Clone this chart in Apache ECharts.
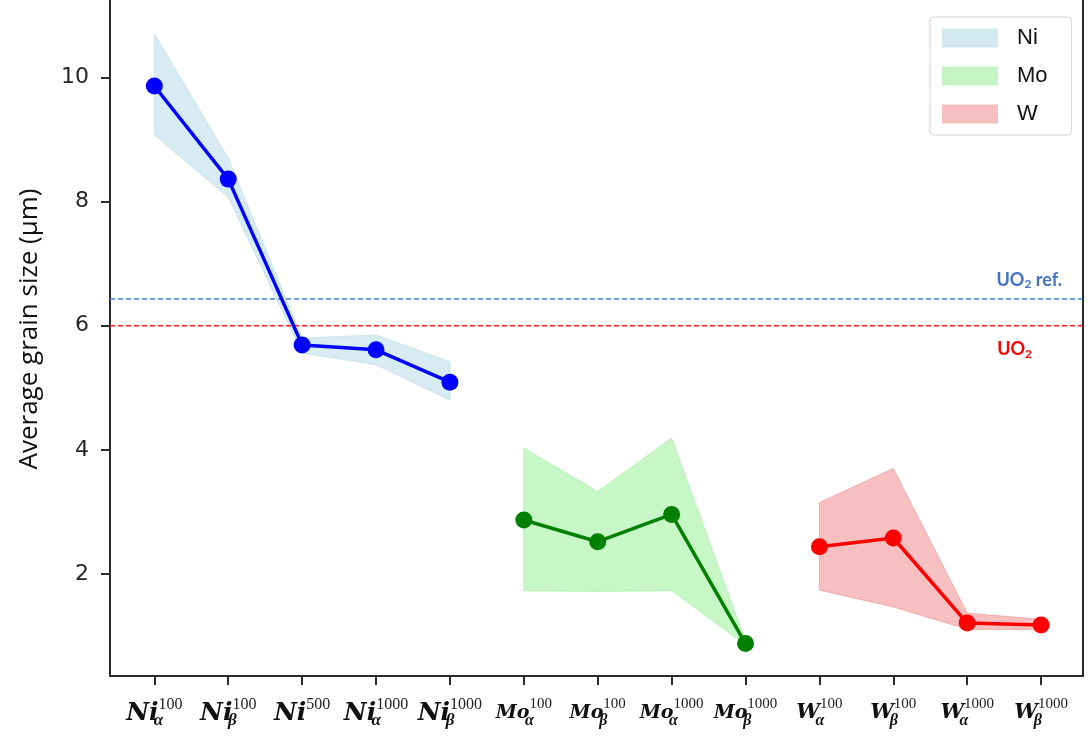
<!DOCTYPE html>
<html>
<head>
<meta charset="utf-8">
<script src="https://cdn.jsdelivr.net/npm/echarts@6/dist/echarts.min.js"></script>
<style>
  html, body { margin: 0; padding: 0; background: #fff; }
  #chart { width: 1088px; height: 738px; }
</style>
</head>
<body>
<div id="chart"></div>
<script>
// Sample labels: element, phase (subscript) and load (superscript)
const elements = ['Ni', 'Ni', 'Ni', 'Ni', 'Ni', 'Mo', 'Mo', 'Mo', 'Mo', 'W', 'W', 'W', 'W'];
const phases   = ['α', 'β', '', 'α', 'β', 'α', 'β', 'α', 'β', 'α', 'β', 'α', 'β'];
const loads    = ['100', '100', '500', '1000', '1000', '100', '100', '1000', '1000', '100', '100', '1000', '1000'];

// Positions of each group on the sample axis
const niIdx = [0, 1, 2, 3, 4];
const moIdx = [5, 6, 7, 8];
const wIdx  = [9, 10, 11, 12];

// Average grain size (µm) with spread bounds
const niMean  = [9.86, 8.36, 5.69, 5.61, 5.09];
const niUpper = [10.70, 8.70, 5.80, 5.85, 5.42];
const niLower = [9.07, 8.07, 5.56, 5.37, 4.80];

const moMean  = [2.87, 2.52, 2.96, 0.88];
const moUpper = [4.03, 3.33, 4.19, 0.92];
const moLower = [1.73, 1.72, 1.73, 0.86];

const wMean  = [2.44, 2.58, 1.21, 1.18];
const wUpper = [3.15, 3.70, 1.37, 1.27];
const wLower = [1.74, 1.47, 1.11, 1.10];

// Reference grain sizes
const uo2Ref = 6.43;
const uo2 = 6.0;

const yTicks = [2, 4, 6, 8, 10];
const xTicks = elements.map((_, i) => i);

// Axis extents
const X_MIN = -0.6, X_MAX = 12.567;
const Y_MIN = 0.357, Y_MAX = 11.245;

const chart = echarts.init(document.getElementById('chart'));

function bandSeries(name, idx, lower, upper, color) {
  return {
    name: name,
    type: 'custom',
    data: idx.map((x, i) => [x, lower[i], upper[i]]),
    encode: { x: 0, y: [1, 2] },
    itemStyle: { color: color },
    z: 1,
    silent: true,
    renderItem: function (params, api) {
      if (params.dataIndex !== 0) return null;
      const pts = [];
      for (let i = 0; i < idx.length; i++) pts.push(api.coord([idx[i], upper[i]]));
      for (let i = idx.length - 1; i >= 0; i--) pts.push(api.coord([idx[i], lower[i]]));
      return {
        type: 'polygon',
        shape: { points: pts },
        style: { fill: color, stroke: color, lineWidth: 1, opacity: 0.5 }
      };
    }
  };
}

function meanSeries(name, idx, mean, color) {
  return {
    name: name,
    type: 'line',
    data: idx.map((x, i) => [x, mean[i]]),
    symbol: 'circle',
    symbolSize: 17,
    lineStyle: { color: color, width: 3.5 },
    itemStyle: { color: color },
    z: 3,
    silent: true
  };
}

// Horizontal dashed reference spanning the whole plot, labelled at its right end
function refLineSeries(name, value, color, label) {
  return {
    name: name,
    type: 'line',
    data: [
      [X_MIN, value],
      { value: [X_MAX, value], label: Object.assign({ show: true, position: 'left' }, label) }
    ],
    symbol: 'circle',
    symbolSize: 0,
    showSymbol: true,
    clip: false,
    lineStyle: { color: color, type: [5, 3], width: 1.5 },
    itemStyle: { color: color },
    z: 2,
    silent: true
  };
}

const labelSizes = {
  Ni: { el: 25, sup: 16, sub: 17 },
  Mo: { el: 19, sup: 15, sub: 16 },
  W:  { el: 21, sup: 15, sub: 16 }
};
const rich = {};
Object.keys(labelSizes).forEach(k => {
  const s = labelSizes[k];
  rich[k + 'el'] = {
    fontFamily: 'DejaVu Serif', fontStyle: 'italic', fontWeight: 'bold',
    fontSize: s.el, color: '#111', verticalAlign: 'middle', lineHeight: 32
  };
  rich[k + 'sub'] = {
    fontFamily: 'Liberation Serif', fontStyle: 'italic', fontWeight: 'bold',
    fontSize: s.sub, color: '#111', verticalAlign: 'bottom', width: 0, lineHeight: 32
  };
  rich[k + 'sup'] = {
    fontFamily: 'Liberation Serif', fontSize: s.sup, color: '#222',
    verticalAlign: 'top', lineHeight: 32
  };
});

const refRich = {
  ref: { fontFamily: 'Lato', fontWeight: 'bold', fontSize: 18, color: '#4472C4' },
  refSub: { fontFamily: 'Lato', fontWeight: 'bold', fontSize: 12, color: '#4472C4', padding: [9, 0, 0, 0] },
  uo: { fontFamily: 'Lato', fontWeight: 'bold', fontSize: 18, color: '#ff0000' },
  uoSub: { fontFamily: 'Lato', fontWeight: 'bold', fontSize: 12, color: '#ff0000', padding: [9, 0, 0, 0] }
};

function sampleLabel(i) {
  const e = elements[i];
  let s = '{' + e + 'el|' + e + '}';
  if (phases[i]) s += '{' + e + 'sub|' + phases[i] + '}';
  s += '{' + e + 'sup|' + loads[i] + '}';
  return s;
}

const option = {
  animation: false,
  backgroundColor: '#ffffff',
  grid: { left: 110, right: 5, top: 0, bottom: 62, containLabel: false },
  legend: {
    left: 930,
    top: 17,
    orient: 'vertical',
    icon: 'rect',
    itemWidth: 56,
    itemHeight: 19,
    itemGap: 16,
    padding: [10, 24, 10, 12],
    borderColor: '#d4d4d4',
    borderWidth: 1,
    borderRadius: 4,
    backgroundColor: 'rgba(255,255,255,0.8)',
    textStyle: { fontFamily: 'Liberation Sans', fontSize: 22, color: '#111', padding: [0, 0, 0, 14] },
    data: [
      { name: 'Ni', itemStyle: { color: '#d3e9f1', opacity: 1 } },
      { name: 'Mo', itemStyle: { color: '#c5f5c5', opacity: 1 } },
      { name: 'W',  itemStyle: { color: '#f6bfbf', opacity: 1 } }
    ],
    selectedMode: false
  },
  xAxis: {
    type: 'value',
    min: X_MIN,
    max: X_MAX,
    splitLine: { show: false },
    axisLine: { show: true, onZero: false, lineStyle: { color: '#2a2a2a', width: 2 } },
    axisTick: { show: true, customValues: xTicks, length: 9, lineStyle: { color: '#2a2a2a', width: 2 } },
    axisLabel: {
      customValues: xTicks,
      margin: 21,
      formatter: v => sampleLabel(Math.round(v)),
      rich: rich
    }
  },
  yAxis: [{
    type: 'value',
    min: Y_MIN,
    max: Y_MAX,
    name: 'Average grain size (µm)',
    nameLocation: 'middle',
    nameGap: 67,
    nameTextStyle: { fontFamily: 'Open Sans', fontSize: 26, color: '#111', padding: [0, 0, 0, 18] },
    splitLine: { show: false },
    axisLine: { show: true, onZero: false, lineStyle: { color: '#2a2a2a', width: 2 } },
    axisTick: { show: true, customValues: yTicks, length: 9, lineStyle: { color: '#2a2a2a', width: 2 } },
    axisLabel: {
      customValues: yTicks,
      margin: 21,
      fontFamily: 'DejaVu Sans',
      fontSize: 22,
      color: '#262626'
    }
  }, {
    type: 'value',
    position: 'right',
    min: Y_MIN,
    max: Y_MAX,
    splitLine: { show: false },
    axisLine: { show: true, onZero: false, lineStyle: { color: '#2a2a2a', width: 2 } },
    axisTick: { show: false },
    axisLabel: { show: false }
  }],
  series: [
    bandSeries('Ni', niIdx, niLower, niUpper, '#add8e6'),
    bandSeries('Mo', moIdx, moLower, moUpper, '#90ee90'),
    bandSeries('W', wIdx, wLower, wUpper, '#f08080'),
    refLineSeries('UO2 ref.', uo2Ref, '#3d85d6', {
      distance: 21,
      offset: [0, -19],
      formatter: '{ref|UO}{refSub|2}{ref| ref.}',
      rich: refRich
    }),
    refLineSeries('UO2', uo2, '#ff1a1a', {
      distance: 51,
      offset: [0, 24],
      formatter: '{uo|UO}{uoSub|2}',
      rich: refRich
    }),
    meanSeries('Ni mean', niIdx, niMean, '#0000ff'),
    meanSeries('Mo mean', moIdx, moMean, '#008000'),
    meanSeries('W mean', wIdx, wMean, '#ff0000')
  ]
};

chart.setOption(option);
</script>
</body>
</html>
